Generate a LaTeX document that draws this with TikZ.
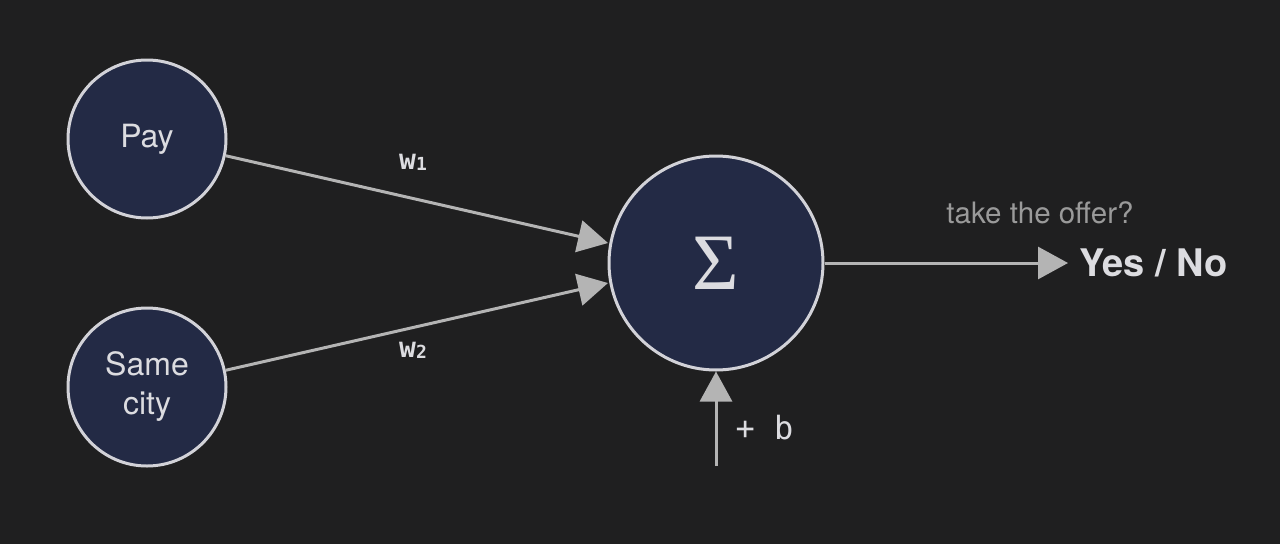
\documentclass[tikz,border=0pt]{standalone}
\usepackage{fontspec}
\setmainfont{TeX Gyre Heros}
\newfontfamily\monofont{DejaVu Sans Mono}
\newfontfamily\sigmafont{Liberation Serif}
\usetikzlibrary{arrows.meta}
\definecolor{bg}{HTML}{1F1F20}
\definecolor{navy}{HTML}{232A45}
\definecolor{rim}{HTML}{D2D2D8}
\definecolor{wire}{HTML}{B4B4B4}
\definecolor{txt}{HTML}{DCDCE0}
\definecolor{dimtxt}{HTML}{9A9A9A}
\tikzset{
  neuron/.style={circle, draw=rim, line width=3pt, fill=navy, text=txt, inner sep=0pt, align=center},
  wirearrow/.style={draw=wire, line width=3pt, -{Triangle[length=30pt,width=32pt]}},
  wlabel/.style={text=txt, font=\monofont\bfseries\fontsize{28}{30}\selectfont},
}
\begin{document}
\begin{tikzpicture}[x=1pt,y=-1pt]
\fill[bg] (0,0) rectangle (1280,544);
\useasboundingbox (0,0) rectangle (1280,544);
\node[neuron, minimum size=158pt, font=\fontsize{32}{38}\selectfont] (pay) at (147,139) {Pay};
\node[neuron, minimum size=158pt, font=\fontsize{32}{39}\selectfont] (city) at (147,387) {Same\\city};
\node[neuron, minimum size=214pt, font=\sigmafont\fontsize{80}{80}\selectfont] (sum) at (716,263) {Σ};
\coordinate (pin1) at (608,243);
\coordinate (pin2) at (608,283);
\draw[wirearrow] (pay.-12) -- (pin1);
\draw[wirearrow] (city.12) -- (pin2);
\node[wlabel] (w1) at (413,162) {w\raisebox{-1pt}{\fontsize{18}{20}\selectfont 1}};
\node[wlabel] (w2) at (413,350) {w\raisebox{-1pt}{\fontsize{18}{20}\selectfont 2}};
\coordinate (outend) at (1068,263);
\draw[wirearrow] (sum.east) -- (outend);
\node[anchor=west, text=txt, font=\bfseries\fontsize{38}{42}\selectfont] (yn) at (1076,263) {Yes / No};
\node[text=dimtxt, font=\fontsize{29.5}{32}\selectfont] (q) at (1040,213) {take the offer?};
\coordinate (bstart) at (716,466);
\draw[wirearrow] (bstart) -- (sum.south);
\node[anchor=west, text=txt, font=\monofont\fontsize{32}{34}\selectfont] (b) at (732,428) {+ b};
\end{tikzpicture}
\end{document}
